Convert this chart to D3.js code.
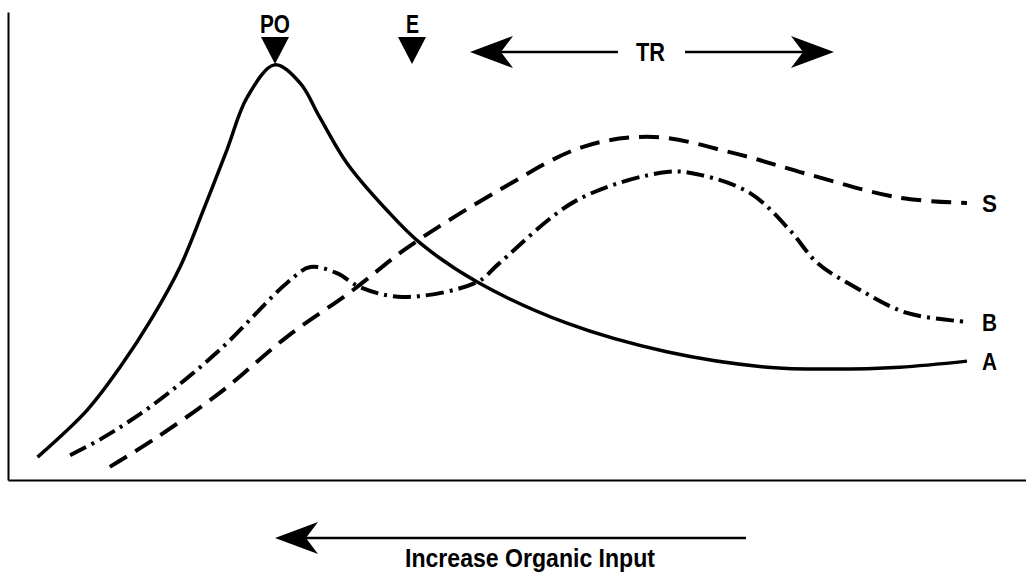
<!DOCTYPE html>
<html lang="en">
  <head>
    <meta charset="UTF-8" />
    <title>Organic input response curves</title>
    <style>
      html,
      body {
        margin: 0;
        background: #fff;
      }
      svg {
        display: block;
      }
      .lbl {
        font-family: "Liberation Sans Narrow", "Liberation Sans", Arial, sans-serif;
        font-weight: bold;
        fill: #000;
      }
    </style>
    <script src="https://cdn.jsdelivr.net/npm/d3@7"></script>
  </head>
  <body>
    <svg id="chart" width="1026" height="583"></svg>
    <script>
      // curve A (solid)
      const aX = [2.9, 7.8, 11.0, 14.2, 16.9, 19.2, 21.5, 23.5, 26.2, 28.7, 30.6, 33.3, 37.2, 40.5, 46.1, 54.9, 64.7, 74.6, 81.0, 87.6, 94.2];
      const aY = [4.9, 15.0, 24.1, 34.8, 45.5, 57.7, 70.5, 81.8, 88.7, 84.8, 77.6, 67.7, 57.7, 50.6, 42.3, 33.5, 27.4, 24.1, 23.7, 24.1, 25.4];
      // curve S (dashed)
      const sX = [10.0, 14.2, 20.8, 27.4, 33.9, 39.2, 48.3, 56.5, 63.4, 71.2, 78.8, 87.6, 94.2];
      const sY = [2.8, 8.5, 18.6, 30.6, 40.6, 49.6, 62.0, 71.2, 73.3, 69.9, 65.2, 60.3, 59.2];
      // curve B (dash-dot)
      const bX = [6.1, 9.3, 14.2, 20.8, 27.4, 29.7, 32.3, 34.6, 38.8, 46.1, 48.3, 55.9, 64.7, 68.0, 72.9, 76.8, 79.5, 83.7, 88.3, 94.2];
      const bY = [5.3, 9.0, 16.0, 27.8, 42.1, 45.5, 44.2, 41.2, 39.1, 42.3, 46.4, 59.8, 65.8, 65.2, 61.3, 53.4, 46.4, 40.6, 35.7, 33.8];

      const curveNames = ["A", "S", "B"];

      const svg = d3.select("#chart");
      const m = { left: 8, right: 1026, top: 12, bottom: 480 };

      const x = d3.scaleLinear().domain([0, 100]).range([m.left, m.right]);
      const y = d3.scaleLinear().domain([0, 100]).range([m.bottom, m.top]);

      // axes: plain frame lines, no ticks
      svg.append("g")
        .attr("transform", `translate(${m.left},0)`)
        .call(d3.axisLeft(y).ticks(0).tickSizeOuter(0))
        .call((g) => g.select(".domain").attr("stroke-width", 2));
      svg.append("g")
        .attr("transform", `translate(0,${m.bottom})`)
        .call(d3.axisBottom(x).ticks(0).tickSizeOuter(0))
        .call((g) => g.select(".domain").attr("stroke-width", 2));

      const line = d3.line()
        .x((d) => x(d[0]))
        .y((d) => y(d[1]))
        .curve(d3.curveCatmullRom.alpha(0.5));

      const series = [
        { name: curveNames[0], pts: d3.zip(aX, aY), dash: null, w: 3.5 },
        { name: curveNames[1], pts: d3.zip(sX, sY), dash: "20,10", w: 4 },
        { name: curveNames[2], pts: d3.zip(bX, bY), dash: "18,6,3,6", w: 4 },
      ];

      svg.selectAll("path.curve")
        .data(series)
        .join("path")
        .attr("class", "curve")
        .attr("fill", "none")
        .attr("stroke", "#000")
        .attr("stroke-width", (d) => d.w)
        .attr("stroke-dasharray", (d) => d.dash)
        .attr("d", (d) => line(d.pts));

      // end labels
      svg.selectAll("text.end")
        .data(series)
        .join("text")
        .attr("class", "lbl end")
        .attr("font-size", 24)
        .attr("x", (d) => x(d.pts[d.pts.length - 1][0]) + 15)
        .attr("y", (d) => y(d.pts[d.pts.length - 1][1]) + 9)
        .attr("textLength", 15)
        .attr("lengthAdjust", "spacingAndGlyphs")
        .text((d) => d.name);

      // markers at top
      function tri(cx) {
        return `M${cx - 14},37 L${cx + 14},37 L${cx},64 Z`;
      }
      svg.append("path").attr("d", tri(275));
      svg.append("path").attr("d", tri(412));
      svg.append("text").attr("class", "lbl").attr("font-size", 25)
        .attr("x", 260).attr("y", 33).attr("textLength", 30).attr("lengthAdjust", "spacingAndGlyphs").text("PO");
      svg.append("text").attr("class", "lbl").attr("font-size", 25)
        .attr("x", 406).attr("y", 33).attr("textLength", 13).attr("lengthAdjust", "spacingAndGlyphs").text("E");

      // barbed arrowhead; dir = -1 points left, 1 points right
      function head(tipX, cy, dir, len, half) {
        const bx = tipX - dir * len;
        const nx = tipX - dir * len * 0.72;
        return `M${tipX},${cy} L${bx},${cy - half} L${nx},${cy} L${bx},${cy + half} Z`;
      }

      // TR arrow
      svg.append("line").attr("x1", 480).attr("x2", 618).attr("y1", 52).attr("y2", 52)
        .attr("stroke", "#000").attr("stroke-width", 2.5);
      svg.append("line").attr("x1", 685).attr("x2", 820).attr("y1", 52).attr("y2", 52)
        .attr("stroke", "#000").attr("stroke-width", 2.5);
      svg.append("path").attr("d", head(470, 52, -1, 43, 16));
      svg.append("path").attr("d", head(834, 52, 1, 43, 16));
      svg.append("text").attr("class", "lbl").attr("font-size", 25)
        .attr("x", 636).attr("y", 61).attr("textLength", 29).attr("lengthAdjust", "spacingAndGlyphs").text("TR");

      // bottom arrow
      svg.append("line").attr("x1", 290).attr("x2", 746).attr("y1", 538).attr("y2", 538)
        .attr("stroke", "#000").attr("stroke-width", 2.5);
      svg.append("path").attr("d", head(275, 538, -1, 43, 16));
      svg.append("text").attr("class", "lbl").attr("font-size", 25)
        .attr("x", 405).attr("y", 567)
        .attr("textLength", 250).attr("lengthAdjust", "spacingAndGlyphs")
        .text("Increase Organic Input");
    </script>
  </body>
</html>
